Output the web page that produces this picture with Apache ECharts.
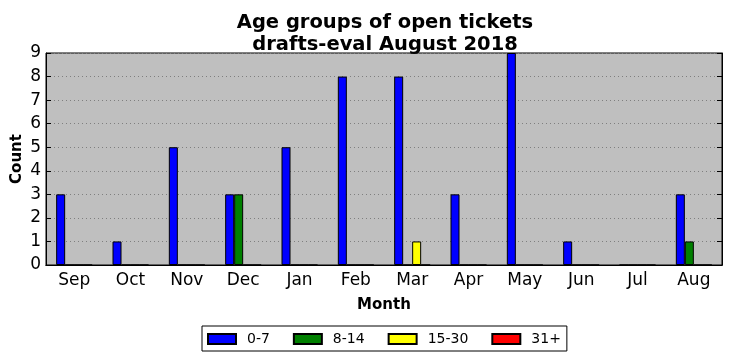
<!DOCTYPE html>
<html><head><meta charset="utf-8">
<script src="https://cdn.jsdelivr.net/npm/echarts@6/dist/echarts.min.js"></script>
<style>html,body{margin:0;padding:0;background:#fff}#c{width:732px;height:361px}</style>
</head><body><div id="c"></div>
<script>
const months = ['Sep','Oct','Nov','Dec','Jan','Feb','Mar','Apr','May','Jun','Jul','Aug'];
const age0_7   = [3,1,5,3,5,8,8,3,9,1,0,3];
const age8_14  = [0,0,0,3,0,0,0,0,0,0,0,1];
const age15_30 = [0,0,0,0,0,0,1,0,0,0,0,0];
const age31p   = [0,0,0,0,0,0,0,0,0,0,0,0];
const seriesNames = ['0-7','8-14','15-30','31+'];
const seriesColors = ['#0000ff','#008000','#ffff00','#ff0000'];
const yTicks = [0,1,2,3,4,5,6,7,8,9];

const font = 'DejaVu Sans';
const chart = echarts.init(document.getElementById('c'));
const allData = [age0_7, age8_14, age15_30, age31p];
chart.setOption({
  animation: false,
  textStyle: {fontFamily: font},
  title: {
    text: 'Age groups of open tickets\ndrafts-eval August 2018',
    left: 380, top: 7, textAlign: 'center',
    textStyle: {fontFamily: font, fontSize: 19.5, fontWeight: 'bold', color: '#000', lineHeight: 22}
  },
  legend: {
    left: 202, top: 326, width: 365,
    padding: [6, 6, 5, 5],
    borderColor: '#000', borderWidth: 1, backgroundColor: '#fff',
    itemWidth: 28, itemHeight: 10, itemGap: 23,
    icon: 'rect',
    textStyle: {fontFamily: font, fontSize: 14, color: '#000', padding: [0,0,0,6]},
    data: seriesNames
  },
  grid: {left: 46, right: 10, top: 53, bottom: 96, outerBoundsMode: 'none', containLabel: false,
    show: true, backgroundColor: '#bfbfbf', borderColor: '#000', borderWidth: 1},
  xAxis: [{
    type: 'category', data: months, position: 'bottom',
    name: 'Month', nameLocation: 'middle', nameGap: 33,
    nameTextStyle: {fontFamily: font, fontSize: 15, fontWeight: 'bold', color: '#000'},
    axisLine: {lineStyle: {color: '#000'}},
    axisTick: {inside: true, alignWithLabel: true, length: 5, lineStyle: {color: '#000'}},
    axisLabel: {fontFamily: font, fontSize: 17, color: '#000', margin: 7},
    splitLine: {show: false}
  },{
    type: 'category', data: months, position: 'top',
    axisLine: {lineStyle: {color: '#000'}},
    axisTick: {inside: true, alignWithLabel: true, length: 5, lineStyle: {color: '#000'}},
    axisLabel: {show: false}, splitLine: {show: false}
  }],
  yAxis: [{
    type: 'value', min: 0, max: 9, interval: 1, position: 'left',
    name: 'Count', nameLocation: 'middle', nameGap: 21, nameRotate: 90, nameMoveOverlap: false,
    nameTextStyle: {fontFamily: font, fontSize: 15, fontWeight: 'bold', color: '#000'},
    axisLine: {show: true, lineStyle: {color: '#000'}},
    axisTick: {show: true, inside: true, length: 5, lineStyle: {color: '#000'}},
    axisLabel: {fontFamily: font, fontSize: 17, color: '#000', margin: 5},
    splitLine: {show: true, lineStyle: {color: '#7f7f7f', type: [1, 3], width: 1}}
  },{
    type: 'value', min: 0, max: 9, interval: 1, position: 'right',
    axisLine: {show: true, lineStyle: {color: '#000'}},
    axisTick: {show: true, inside: true, length: 5, lineStyle: {color: '#000'}},
    axisLabel: {show: false}, splitLine: {show: false}
  }],
  series: seriesNames.map((n, i) => ({
    name: n, type: 'bar', xAxisIndex: 0, yAxisIndex: 0,
    data: allData[i], barWidth: 9, barGap: '0%',
    itemStyle: {color: seriesColors[i], borderColor: '#000', borderWidth: 1}
  }))
});
</script></body></html>
